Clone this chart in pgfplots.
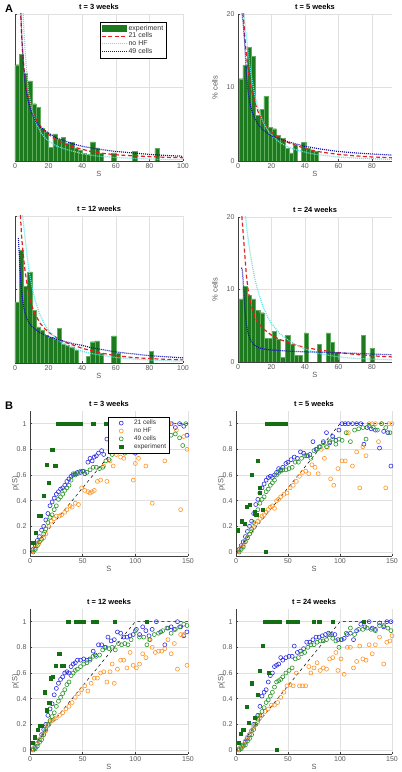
\documentclass[border=0pt]{standalone}
\usepackage{fontspec}
\setmainfont{Liberation Sans}
\usepackage{pgfplots}
\pgfplotsset{compat=1.18}
\definecolor{barfill}{RGB}{30,122,30}
\definecolor{baredge}{RGB}{95,175,95}
\definecolor{cred}{RGB}{230,30,30}
\definecolor{ccyan}{RGB}{90,230,230}
\definecolor{cblue}{RGB}{20,20,170}
\definecolor{mblue}{RGB}{45,45,230}
\definecolor{morange}{RGB}{255,150,40}
\definecolor{mgreen}{RGB}{40,150,40}
\definecolor{msq}{RGB}{20,110,20}
\pgfplotsset{
 base/.style={scale only axis, axis x line*=bottom, axis y line*=left, anchor=origin,
  axis line style={draw=black!75, line width=0.5pt},
  grid=major, major grid style={draw=black!12, line width=0.5pt},
  tick style={draw=black!75, line width=0.4pt}, major tick length=2pt, tick align=inside,
  ticklabel style={font=\fontsize{7}{8}\selectfont, text=black!65},
  xticklabel style={yshift=1pt},
  /pgf/number format/assume math mode=true,
  label style={font=\fontsize{7.5}{8}\selectfont, text=black!65},
  xlabel shift=-4pt,
  title style={font=\bfseries\fontsize{7.5}{8}\selectfont, inner sep=1pt, yshift=-2.5pt}},
 Apanel/.style={base, ymin=0, ymax=20, ytick={0,10,20}, xmin=0, ylabel shift=2pt},
 Bpanel/.style={base, xmin=0, xmax=150, ymin=-0.03, ymax=1.1, height=145pt,
  xtick={0,50,100,150}, ytick={0,0.2,0.4,0.6,0.8,1}, ylabel={p(S)}, xlabel={S}, ylabel shift=-9pt,
  yticklabel style={/pgf/number format/.cd, fixed, precision=1}},
 bars/.style={ybar, bar width=2.5, bar shift=0pt, fill=barfill, draw=baredge, line width=0.3pt},
 barleg/.style={legend image code/.code={\fill[barfill] (0cm,-0.1cm) rectangle (0.85cm,0.11cm);}},
 lleg/.style={legend image code/.code={\draw[##1] (0cm,0cm) -- (0.85cm,0cm);}},
 mleg/.style={legend image code/.code={\path[draw=none,fill=none] (0cm,-0.05cm) rectangle (0.8cm,0.05cm); \draw[##1] plot coordinates {(0.42cm,0cm)};}},
 rline/.style={color=cred, line width=1.2pt, dash pattern=on 4pt off 2.5pt},
 cline/.style={color=ccyan, line width=1.2pt, dash pattern=on 1pt off 1pt},
 bline/.style={color=cblue, line width=1.2pt, dash pattern=on 1pt off 1pt},
 sb/.style={only marks, mark=o, mark size=2pt, color=mblue, line width=0.6pt},
 so/.style={only marks, mark=o, mark size=2pt, color=morange, line width=0.6pt},
 sg/.style={only marks, mark=o, mark size=2pt, color=mgreen, line width=0.6pt},
 sq/.style={only marks, mark=square*, mark size=1.6pt, color=msq},
 dline/.style={black, dashed, line width=0.5pt},
}
\begin{document}
\begin{tikzpicture}
\node[font=\bfseries\fontsize{11}{11}\selectfont] at (9pt,763pt) {A};
\node[font=\bfseries\fontsize{11}{11}\selectfont] at (9pt,366pt) {B};

% ---------------- A1: t = 3 weeks
\begin{axis}[Apanel, at={(15pt,611pt)}, width=168pt, height=147pt,
 xmax=100, xtick={0,20,40,60,80,100}, yticklabels={}, title={t = 3 weeks}, xlabel={S},
 legend style={at={(0.506,0.946)}, anchor=north west, font=\fontsize{7}{7}\selectfont, draw=black, fill=white, inner sep=1pt, row sep=-2.8pt, text=black!80},
 legend cell align=left]
\addplot[bars, barleg] coordinates {
(1.25,13.1) (3.75,14.5) (6.25,12.0) (8.75,10.9) (11.25,7.8) (13.75,7.3) (16.25,4.5) (18.75,3.9) (21.25,1.9) (23.75,3.7) (26.25,3.0) (28.75,3.2) (31.25,2.4) (33.75,2.5) (36.25,1.7) (38.75,1.5) (41.25,1.0) (43.75,0.9) (46.25,2.6) (48.75,1.8) (51.25,1.0) (58.75,1.1) (71.25,1.3) (84.5,1.7)};
\addlegendentry{experiment}
\addplot[rline, lleg] coordinates {
(2.5,25) (3,22) (4,17) (4.5,15) (5,13.5) (6,11) (7,9.6) (8,8.6) (10,7) (12,5.9) (14,5.1) (16,4.5) (18,4.0) (20,3.6) (25,2.8) (30,2.3) (35,1.9) (40,1.6) (45,1.3) (50,1.1) (60,0.85) (70,0.7) (80,0.6) (90,0.5) (100,0.45)};
\addlegendentry{21 cells}
\addplot[cline, lleg] coordinates {
(4,25) (5,19) (6,15) (7,12) (8,9.5) (10,7) (12,5.5) (15,4) (18,3.1) (20,2.7) (25,2.0) (30,1.6) (35,1.3) (40,1.0) (45,0.8) (50,0.65) (60,0.48) (70,0.36) (80,0.28) (90,0.22) (100,0.18)};
\addlegendentry{no HF}
\addplot[bline, lleg] coordinates {
(3,24) (3.5,20) (4,17) (5,13) (6,10.5) (7,9) (8,8) (10,6.5) (12,5.5) (15,4.6) (20,3.8) (25,3.1) (30,2.7) (35,2.3) (40,2.0) (45,1.8) (50,1.6) (60,1.3) (70,1.1) (80,0.9) (90,0.75) (100,0.65)};
\addlegendentry{49 cells}
\end{axis}

% ---------------- A2: t = 5 weeks
\begin{axis}[Apanel, at={(238pt,611pt)}, width=154pt, height=147pt,
 xmax=92, xtick={0,20,40,60,80}, title={t = 5 weeks}, xlabel={S}, ylabel={\% cells}]
\addplot[bars] coordinates {
(1.7,11.2) (4.2,13.0) (6.7,15.5) (9.2,14.2) (11.7,6.2) (14.2,7.0) (16.7,8.8) (19.2,4.6) (21.7,4.4) (24.2,3.5) (26.7,3.1) (29.2,1.7) (31.7,1.1) (34.2,2.2) (39.2,2.5) (41.7,1.7) (44.2,1.5) (46.7,1.3)};
\addplot[rline] coordinates {
(3,21) (4,17) (5,14.5) (6,12.5) (7,11) (8,9.7) (10,8) (12,6.7) (15,5.3) (18,4.3) (20,3.9) (25,3.1) (30,2.5) (35,2.1) (40,1.7) (45,1.4) (50,1.2) (60,0.9) (70,0.7) (80,0.55) (92,0.45)};
\addplot[cline] coordinates {
(3,21) (4,19) (5,17) (6,15) (7,13) (8,11.5) (10,9) (12,7.2) (15,5.3) (18,4.1) (20,3.5) (25,2.5) (30,1.9) (35,1.5) (40,1.2) (45,0.95) (50,0.8) (60,0.55) (70,0.4) (80,0.3) (92,0.22)};
\addplot[bline] coordinates {
(2,21) (3,19) (4,16) (5,12) (6,9.5) (7,8) (8,7) (10,5.8) (12,5.0) (15,4.2) (20,3.4) (25,3.0) (30,2.6) (35,2.3) (40,2.0) (45,1.8) (50,1.6) (60,1.3) (70,1.1) (80,0.95) (92,0.8)};
\end{axis}

% ---------------- A3: t = 12 weeks
\begin{axis}[Apanel, at={(15pt,409pt)}, width=168pt, height=147pt,
 xmax=100, xtick={0,20,40,60,80,100}, yticklabels={}, title={t = 12 weeks}, xlabel={S}]
\addplot[bars] coordinates {
(1.25,8.3) (3.75,15.4) (6.25,10.4) (8.75,12.4) (11.25,7.2) (13.75,4.9) (16.25,4.5) (18.75,3.8) (21.25,3.5) (23.75,3.3) (26.25,4.7) (28.75,2.6) (31.25,2.4) (33.75,2.2) (36.25,1.7) (43.75,0.9) (46.25,2.9) (48.75,3.0) (51.25,1.3) (58.75,3.7) (61.25,1.3) (81.25,1.6)};
\addplot[rline] coordinates {
(3,21) (4,17) (5,14.5) (6,12.5) (7,11) (8,9.7) (10,7.8) (12,6.6) (15,5.4) (18,4.6) (20,4.2) (25,3.4) (30,2.8) (35,2.4) (40,2.0) (45,1.7) (50,1.4) (60,1.0) (70,0.75) (80,0.6) (90,0.5) (100,0.42)};
\addplot[cline] coordinates {
(4,21) (5,19) (6,17) (7,15) (8,13) (10,10.5) (12,8.5) (15,6.5) (18,5.1) (20,4.4) (25,3.2) (30,2.5) (35,2.0) (40,1.6) (45,1.3) (50,1.1) (60,0.75) (70,0.55) (80,0.4) (90,0.3) (100,0.25)};
\addplot[bline] coordinates {
(2,17) (2.5,15) (3,12.5) (4,9.5) (5,7.8) (6,6.8) (7,6.1) (8,5.6) (10,5.0) (12,4.6) (15,4.1) (20,3.6) (25,3.2) (30,2.9) (35,2.6) (40,2.4) (45,2.1) (50,1.9) (60,1.5) (70,1.25) (80,1.0) (90,0.85) (100,0.7)};
\end{axis}

% ---------------- A4: t = 24 weeks
\begin{axis}[Apanel, at={(238pt,410pt)}, width=154pt, height=145pt,
 xmax=92, xtick={0,20,40,60,80}, title={t = 24 weeks}, xlabel={S}, ylabel={\% cells}]
\addplot[bars] coordinates {
(1.7,8.7) (4.2,10.4) (6.7,9.2) (9.2,8.7) (11.7,7.1) (14.2,6.8) (16.7,3.3) (19.2,3.3) (21.7,4.2) (24.2,3.1) (26.7,0.6) (29.7,3.7) (32.2,2.4) (34.7,0.9) (37.2,0.9) (40.7,4.0) (48.6,2.4) (53.9,4.0) (56.4,2.7) (58.9,1.3) (74.8,3.7) (80,1.9)};
\addplot[rline] coordinates {
(2,21) (3,18) (4,15) (5,12) (6,10) (7,8.7) (8,7.7) (10,6.3) (12,5.4) (15,4.6) (20,3.7) (25,3.1) (30,2.7) (35,2.3) (40,2.0) (45,1.8) (50,1.6) (60,1.3) (70,1.05) (80,0.85) (92,0.7)};
\addplot[cline] coordinates {
(4,21) (5,19) (6,17) (7,15.5) (8,14) (10,11.5) (12,9.7) (15,7.6) (18,6.1) (20,5.3) (25,3.9) (30,3.0) (35,2.3) (40,1.8) (45,1.4) (50,1.1) (60,0.7) (70,0.5) (80,0.4) (92,0.3)};
\addplot[bline] coordinates {
(2,13) (2.5,12.8) (3,11.5) (3.5,9.5) (4,7.5) (5,5.2) (6,4.0) (7,3.3) (8,2.8) (10,2.3) (12,2.0) (15,1.8) (20,1.65) (30,1.5) (40,1.4) (50,1.35) (60,1.25) (70,1.2) (80,1.1) (92,1.0)};
\end{axis}

% ---------------- B1: t = 3 weeks
\begin{axis}[Bpanel, at={(30pt,220pt)}, width=158pt, title={t = 3 weeks},
 legend style={at={(0.494,0.959)}, anchor=north west, font=\fontsize{6.5}{6.5}\selectfont, draw=black, fill=white, inner sep=1pt, row sep=-2.2pt, text=black!80},
 legend cell align=left]
\addplot[dline, forget plot] coordinates {(0,0) (100,1) (150,1)};
\addplot[sb, mleg] coordinates {
(3,0.02) (5,0.05) (7,0.09) (9,0.12) (11,0.17) (13,0.2) (15,0.25) (17,0.3) (19,0.36) (21,0.39) (23,0.42) (25,0.45) (27,0.47) (29,0.49) (31,0.5) (33,0.52) (35,0.55) (37,0.57) (39,0.59) (41,0.6) (43,0.61) (45,0.62) (48,0.62) (50,0.63) (52,0.61) (55,0.7) (57,0.73) (59,0.71) (61,0.74) (63,0.75) (65,0.77) (68,0.79) (70,0.76) (73,0.88) (76,0.79) (78,0.83) (81,0.85) (84,0.9) (87,0.86) (90,0.88) (94,0.92) (97,0.9) (100,0.77) (103,0.95) (106,0.98) (110,1.0) (114,1.0) (118,1.0) (122,1.0) (126,0.98) (130,1.0) (134,1.0) (138,0.97) (142,1.0) (146,0.98) (149,0.91)};
\addlegendentry{21 cells}
\addplot[so, mleg] coordinates {
(3,0.01) (5,0.03) (8,0.06) (10,0.09) (13,0.11) (15,0.14) (18,0.2) (20,0.24) (23,0.26) (25,0.28) (28,0.28) (30,0.29) (33,0.31) (35,0.33) (38,0.36) (40,0.35) (43,0.38) (46,0.37) (49,0.5) (52,0.48) (55,0.47) (57,0.46) (59,0.47) (61,0.48) (64,0.55) (67,0.56) (70,0.67) (73,0.55) (76,0.71) (79,0.67) (82,0.76) (86,0.74) (89,0.73) (92,0.8) (95,0.78) (98,0.56) (100,0.69) (103,0.73) (106,0.8) (110,0.67) (113,0.85) (116,0.38) (120,0.9) (124,0.85) (128,0.71) (131,0.8) (135,1.0) (139,0.95) (143,0.33) (146,0.9) (149,0.8)};
\addlegendentry{no HF}
\addplot[sg, mleg] coordinates {
(3,0.0) (5,0.02) (7,0.05) (9,0.08) (11,0.1) (13,0.14) (15,0.18) (17,0.23) (19,0.27) (21,0.29) (23,0.33) (25,0.36) (27,0.41) (29,0.43) (31,0.45) (33,0.48) (35,0.5) (37,0.52) (39,0.56) (41,0.61) (43,0.6) (45,0.61) (48,0.63) (51,0.63) (54,0.62) (57,0.64) (60,0.66) (63,0.66) (66,0.65) (69,0.66) (72,0.71) (75,0.72) (78,0.76) (82,0.78) (86,0.79) (90,0.77) (94,0.79) (98,0.8) (102,0.82) (106,0.84) (110,0.86) (114,0.78) (118,0.87) (122,0.9) (126,0.88) (130,0.9) (134,0.91) (138,0.92) (142,0.89) (145,0.83) (148,1.0)};
\addlegendentry{49 cells}
\addplot[sq, mleg] coordinates {
(3,0.07) (5.5,0.15) (8.5,0.28) (10.5,0.28) (13,0.44) (16,0.68) (18,0.54) (21,0.8) (24,0.67) (26,1) (28,1) (30,1) (32,1) (34,1) (36,1) (38,1) (40,1) (42,1) (44,1) (46,1) (48,1) (60,1) (72,1)};
\addlegendentry{experiment}
\end{axis}

% ---------------- B2: t = 5 weeks
\begin{axis}[Bpanel, at={(236pt,220pt)}, width=156pt, title={t = 5 weeks}]
\addplot[dline] coordinates {(0,0) (100,1) (150,1)};
\addplot[sb] coordinates {
(3,0.02) (5,0.05) (7,0.08) (9,0.12) (11,0.16) (13,0.2) (15,0.24) (17,0.3) (19,0.37) (21,0.41) (23,0.46) (25,0.5) (27,0.53) (29,0.56) (31,0.58) (33,0.59) (35,0.58) (37,0.6) (39,0.62) (41,0.65) (43,0.64) (45,0.66) (48,0.69) (50,0.7) (53,0.72) (56,0.74) (59,0.73) (62,0.78) (65,0.77) (68,0.75) (71,0.76) (74,0.86) (77,0.8) (80,0.82) (84,0.86) (87,0.93) (90,0.85) (93,0.9) (96,0.87) (99,0.95) (102,1.0) (105,1.0) (108,1.0) (112,1.0) (116,1.0) (120,1.0) (123,0.84) (126,0.97) (130,0.96) (134,0.95) (138,0.81) (142,0.94) (146,0.93) (149,0.67)};
\addplot[so] coordinates {
(3,0.01) (5,0.03) (7,0.05) (9,0.08) (11,0.11) (13,0.14) (15,0.16) (17,0.19) (19,0.22) (21,0.24) (23,0.26) (25,0.28) (27,0.29) (29,0.31) (31,0.33) (33,0.35) (35,0.36) (37,0.34) (39,0.4) (41,0.41) (43,0.43) (46,0.45) (49,0.46) (52,0.5) (55,0.52) (58,0.55) (61,0.59) (64,0.62) (67,0.63) (70,0.61) (73,0.68) (76,0.66) (79,0.61) (82,0.8) (85,0.73) (88,0.82) (91,0.57) (94,0.52) (98,0.65) (102,0.71) (105,0.71) (108,0.93) (112,0.67) (116,0.78) (119,0.5) (122,0.82) (125,0.75) (128,1.0) (131,1.0) (134,1.0) (137,0.86) (140,1.0) (144,0.5) (147,1.0) (150,1.0)};
\addplot[sg] coordinates {
(3,0.0) (5,0.02) (7,0.04) (9,0.08) (11,0.11) (13,0.14) (15,0.18) (17,0.23) (19,0.29) (21,0.33) (23,0.38) (25,0.41) (27,0.43) (29,0.47) (31,0.49) (33,0.52) (35,0.54) (37,0.56) (39,0.6) (41,0.62) (43,0.63) (45,0.64) (48,0.64) (51,0.65) (54,0.66) (57,0.7) (60,0.7) (63,0.73) (66,0.75) (69,0.75) (72,0.73) (75,0.79) (78,0.8) (81,0.82) (84,0.85) (87,0.82) (90,0.86) (93,0.88) (96,0.84) (99,0.88) (102,0.87) (106,0.93) (110,0.86) (114,0.95) (118,0.96) (122,0.97) (125,0.88) (128,0.98) (132,0.97) (136,0.95) (140,1.0) (144,0.97) (148,0.93)};
\addplot[sq] coordinates {
(2,0.17) (5.5,0.24) (8,0.22) (10,0.35) (13,0.37) (15,0.6) (18,0.31) (19.5,0.29) (21,0.71) (22.5,0.5) (23,0.46) (25.7,0.33) (28.6,0) (30,1) (32,1) (34,1) (36,1) (38,1) (40,1) (42,1) (44,1) (46,1) (48,1)};
\end{axis}

% ---------------- B3: t = 12 weeks
\begin{axis}[Bpanel, at={(30pt,22pt)}, width=158pt, title={t = 12 weeks}]
\addplot[dline] coordinates {(0,0) (100,1) (150,1)};
\addplot[sb] coordinates {
(3,0.01) (5,0.02) (7,0.05) (9,0.08) (11,0.12) (13,0.16) (15,0.2) (17,0.27) (19,0.32) (21,0.36) (23,0.43) (25,0.48) (27,0.52) (29,0.55) (31,0.57) (33,0.6) (35,0.61) (37,0.6) (39,0.65) (41,0.67) (43,0.68) (45,0.7) (48,0.7) (51,0.71) (54,0.7) (57,0.71) (60,0.77) (62,0.74) (65,0.82) (68,0.82) (71,0.8) (74,0.88) (77,0.85) (80,0.86) (83,0.92) (86,0.91) (89,0.88) (92,0.88) (95,0.89) (98,0.9) (101,0.94) (104,0.9) (107,0.96) (110,0.93) (113,0.89) (116,0.94) (120,1.0) (124,0.92) (128,0.82) (131,0.95) (134,0.96) (137,0.94) (140,1.0) (143,0.96) (146,0.89) (149,0.92)};
\addplot[so] coordinates {
(3,0.01) (5,0.03) (7,0.05) (9,0.08) (11,0.1) (13,0.12) (15,0.15) (17,0.19) (19,0.22) (21,0.23) (23,0.24) (25,0.25) (28,0.27) (31,0.29) (34,0.32) (37,0.34) (40,0.37) (43,0.41) (46,0.44) (49,0.47) (52,0.5) (55,0.46) (58,0.52) (61,0.56) (64,0.56) (67,0.6) (70,0.61) (73,0.53) (76,0.61) (78,0.67) (80,0.52) (83,0.63) (86,0.7) (89,0.7) (92,0.64) (95,0.76) (98,0.66) (101,0.64) (104,0.67) (107,0.75) (110,0.72) (113,0.86) (116,0.8) (119,0.76) (122,0.77) (125,0.77) (128,0.79) (131,0.86) (134,0.75) (137,0.83) (140,0.63) (143,0.9) (146,0.9) (149,0.66)};
\addplot[sg] coordinates {
(3,0.0) (5,0.01) (7,0.03) (9,0.06) (11,0.08) (13,0.12) (15,0.16) (17,0.2) (19,0.23) (21,0.26) (23,0.29) (25,0.34) (27,0.38) (29,0.41) (31,0.44) (33,0.47) (35,0.51) (37,0.53) (39,0.58) (41,0.6) (43,0.62) (45,0.63) (48,0.65) (51,0.67) (54,0.68) (57,0.7) (60,0.73) (63,0.73) (66,0.74) (69,0.78) (72,0.8) (75,0.79) (78,0.8) (81,0.78) (84,0.83) (87,0.82) (90,0.83) (93,0.82) (96,0.86) (100,0.93) (104,0.88) (108,0.88) (111,0.82) (114,0.86) (118,0.9) (122,0.91) (126,0.93) (130,0.95) (134,0.91) (138,0.94) (142,0.96) (146,0.98) (149,0.97)};
\addplot[sq] coordinates {
(2.5,0.06) (4.7,0.1) (7,0.16) (9.5,0.19) (11,0.19) (13.6,0.45) (15.8,0.31) (18.3,0.37) (19.6,0.56) (21.5,0.57) (24.6,0.66) (27.8,0.75) (30,0.66) (32,0.66) (36.3,1) (43.6,1) (46.1,1) (48.3,1) (50.5,1) (59.4,1) (63.2,1) (80.5,1) (110.5,1)};
\end{axis}

% ---------------- B4: t = 24 weeks
\begin{axis}[Bpanel, at={(236pt,22pt)}, width=156pt, title={t = 24 weeks}]
\addplot[dline] coordinates {(0,0) (100,1) (150,1)};
\addplot[sb] coordinates {
(3,0.01) (5,0.02) (7,0.04) (9,0.06) (11,0.09) (13,0.12) (15,0.15) (17,0.2) (19,0.25) (21,0.27) (23,0.34) (25,0.42) (27,0.45) (29,0.47) (31,0.53) (33,0.58) (35,0.6) (37,0.65) (39,0.66) (41,0.67) (43,0.72) (45,0.7) (48,0.72) (51,0.73) (54,0.73) (56,0.81) (59,0.76) (62,0.77) (65,0.79) (68,0.84) (71,0.84) (74,0.86) (77,0.88) (80,0.88) (83,0.89) (86,0.9) (89,0.91) (92,0.9) (95,0.9) (98,0.86) (101,0.86) (104,0.87) (107,0.9) (110,0.91) (113,0.86) (116,0.93) (120,0.98) (124,0.96) (128,1.0) (131,0.95) (134,0.94) (138,0.99) (142,0.96) (145,1.0) (149,1.0)};
\addplot[so] coordinates {
(3,0.01) (5,0.02) (7,0.04) (9,0.07) (11,0.1) (13,0.12) (15,0.15) (17,0.18) (19,0.2) (21,0.22) (23,0.25) (25,0.27) (28,0.3) (31,0.32) (34,0.35) (37,0.35) (40,0.37) (43,0.41) (46,0.45) (49,0.5) (52,0.51) (55,0.5) (58,0.6) (61,0.5) (64,0.5) (67,0.5) (70,0.65) (72,0.6) (75,0.64) (78,0.68) (81,0.62) (84,0.64) (87,0.63) (90,0.71) (93,0.72) (96,0.76) (98,0.62) (101,0.71) (104,0.59) (107,0.8) (110,0.8) (113,0.64) (116,0.69) (119,0.81) (122,0.71) (125,0.7) (128,0.82) (131,0.75) (134,0.82) (138,0.88) (142,0.67) (145,0.84) (148,0.85) (150,0.89)};
\addplot[sg] coordinates {
(3,0.0) (5,0.01) (7,0.03) (9,0.04) (11,0.07) (13,0.09) (15,0.12) (17,0.16) (19,0.2) (21,0.24) (23,0.27) (25,0.3) (27,0.33) (29,0.37) (31,0.39) (33,0.42) (35,0.45) (37,0.49) (39,0.53) (41,0.54) (43,0.55) (45,0.57) (48,0.6) (51,0.62) (54,0.64) (57,0.71) (60,0.72) (63,0.75) (66,0.76) (69,0.8) (72,0.82) (75,0.82) (78,0.84) (81,0.85) (84,0.85) (87,0.86) (90,0.9) (93,0.87) (96,0.85) (99,0.8) (102,0.86) (106,0.91) (110,0.95) (114,0.9) (118,0.94) (122,0.94) (126,0.95) (130,0.94) (134,0.93) (138,0.97) (142,0.97) (146,0.95) (149,0.93)};
\addplot[sq] coordinates {
(2.2,0.06) (4.5,0.13) (7,0.16) (10.3,0.34) (12.5,0.21) (15.1,0.52) (18.3,0.25) (20.6,0.43) (23.1,0.62) (25.7,0.81) (31.2,0.6) (39.2,0) (28,1) (32.8,1) (37.6,1) (41.8,1) (49.5,1) (52.7,1) (56.2,1) (58.8,1) (74.5,1) (80,1) (93.2,1) (122.7,1)};
\end{axis}
\pgfresetboundingbox
\useasboundingbox (0pt,0pt) rectangle (402pt,772pt);
\end{tikzpicture}
\end{document}
